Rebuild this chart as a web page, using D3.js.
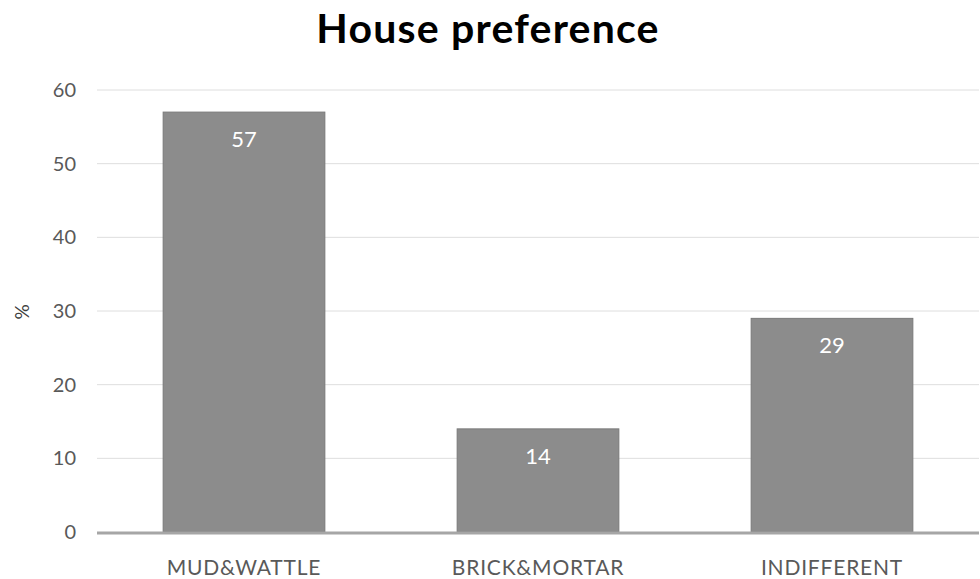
<!DOCTYPE html>
<html>
<head>
<meta charset="utf-8">
<script src="https://cdn.jsdelivr.net/npm/d3@7"></script>
<style>
  body { margin: 0; background: #fff; }
  svg { display: block; }
</style>
</head>
<body>
<div id="chart"></div>
<script>
// --- Data ---
const categories = ['MUD&WATTLE', 'BRICK&MORTAR', 'INDIFFERENT'];
const percentValues = [57, 14, 29];
const yTicks = [0, 10, 20, 30, 40, 50, 60];

const width = 980;
const height = 579;
const fontFamily = 'Lato, "Open Sans", sans-serif';

const svg = d3.select('#chart')
  .append('svg')
  .attr('width', width)
  .attr('height', height);

const x = d3.scaleBand()
  .domain(categories)
  .range([97, 979])
  .paddingInner(0.45)
  .paddingOuter(0.225);

const y = d3.scaleLinear()
  .domain([0, 60])
  .range([532, 90]);

// gridlines
svg.append('g')
  .selectAll('line')
  .data(yTicks.filter(d => d > 0))
  .enter().append('line')
  .attr('x1', 97)
  .attr('x2', 979)
  .attr('y1', d => y(d))
  .attr('y2', d => y(d))
  .attr('stroke', '#dedede')
  .attr('stroke-width', 1);

// y tick labels
svg.append('g')
  .selectAll('text')
  .data(yTicks)
  .enter().append('text')
  .attr('x', 76)
  .attr('y', d => y(d))
  .attr('dy', '0.35em')
  .attr('text-anchor', 'end')
  .style('font-family', fontFamily)
  .style('font-size', '20px')
  .style('fill', '#595959')
  .text(d => d);

// bars
svg.append('g')
  .selectAll('rect')
  .data(percentValues)
  .enter().append('rect')
  .attr('x', (d, i) => x(categories[i]))
  .attr('y', d => y(d))
  .attr('width', x.bandwidth())
  .attr('height', d => y(0) - y(d))
  .attr('fill', '#8c8c8c')
  .attr('stroke', '#7a7a7a')
  .attr('stroke-width', 1);

// data labels
svg.append('g')
  .selectAll('text')
  .data(percentValues)
  .enter().append('text')
  .attr('x', (d, i) => x(categories[i]) + x.bandwidth() / 2)
  .attr('y', d => y(d) + 35)
  .attr('text-anchor', 'middle')
  .style('font-family', fontFamily)
  .style('font-size', '22px')
  .style('fill', '#ffffff')
  .text(d => d);

// x axis line
svg.append('line')
  .attr('x1', 97)
  .attr('x2', 979)
  .attr('y1', y(0) + 1)
  .attr('y2', y(0) + 1)
  .attr('stroke', '#a6a6a6')
  .attr('stroke-width', 3);

// category labels
svg.append('g')
  .selectAll('text')
  .data(categories)
  .enter().append('text')
  .attr('x', d => x(d) + x.bandwidth() / 2)
  .attr('y', 575)
  .attr('text-anchor', 'middle')
  .style('font-family', fontFamily)
  .style('font-size', '21px')
  .style('letter-spacing', '0.8px')
  .style('fill', '#595959')
  .text(d => d);

// y axis title
svg.append('text')
  .attr('transform', 'translate(29, 312) rotate(-90)')
  .attr('text-anchor', 'middle')
  .style('font-family', fontFamily)
  .style('font-size', '19px')
  .style('fill', '#404040')
  .text('%');

// title
svg.append('text')
  .attr('x', 488)
  .attr('y', 43)
  .attr('text-anchor', 'middle')
  .style('font-family', fontFamily)
  .style('font-size', '41px')
  .style('font-weight', 'bold')
  .style('letter-spacing', '1.2px')
  .style('fill', '#000')
  .text('House preference');
</script>
</body>
</html>
